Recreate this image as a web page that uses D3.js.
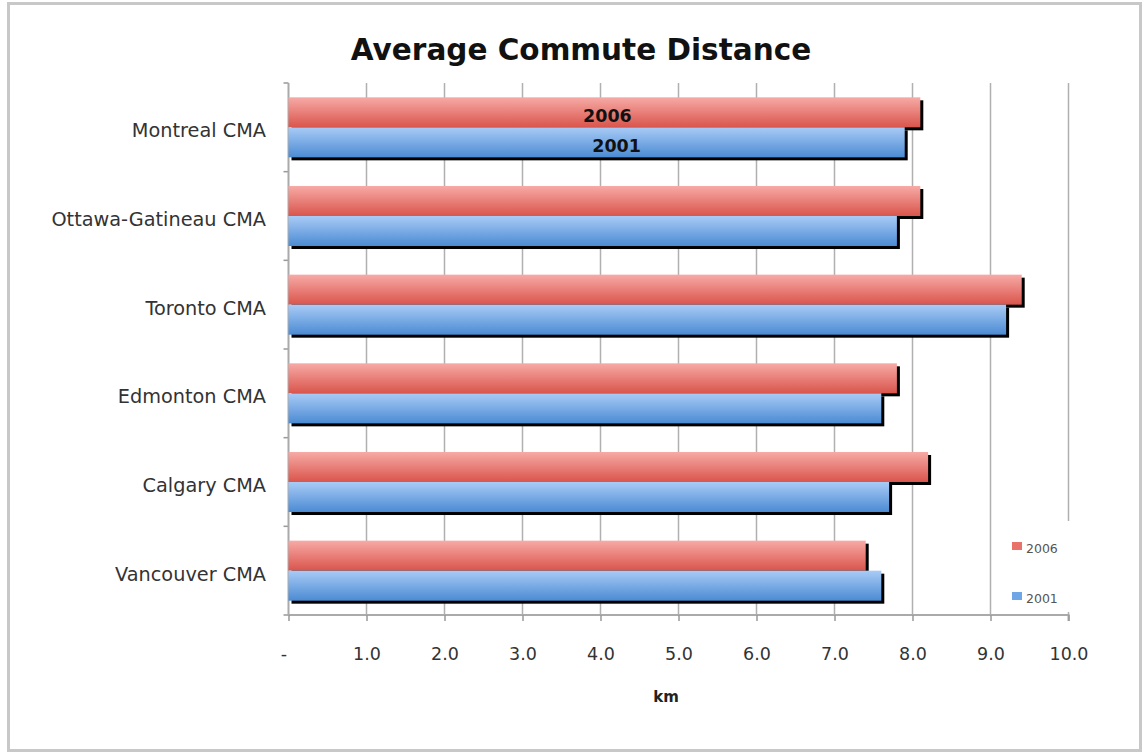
<!DOCTYPE html>
<html><head><meta charset="utf-8">
<script src="https://cdn.jsdelivr.net/npm/d3@7"></script>
<style>body{margin:0;background:#fff}svg{display:block}</style>
</head><body><svg id="c" width="1144" height="754"></svg>
<script>
const categories = ["Montreal CMA","Ottawa-Gatineau CMA","Toronto CMA","Edmonton CMA","Calgary CMA","Vancouver CMA"];
const seriesNames = ["2006","2001"];
const values2006 = [8.1, 8.1, 9.4, 7.8, 8.2, 7.4];
const values2001 = [7.9, 7.8, 9.2, 7.6, 7.7, 7.6];
const xTicks = [0,1,2,3,4,5,6,7,8,9,10];
const xTickLabels = ["-","1.0","2.0","3.0","4.0","5.0","6.0","7.0","8.0","9.0","10.0"];
const chartTitle = "Average Commute Distance";
const xTitle = "km";

const svg = d3.select("#c");
const font = "'DejaVu Sans', sans-serif";
const pL = 288.5, pR = 1068.5, pT = 83, pB = 615;

const x = d3.scaleLinear().domain([0,10]).range([pL,pR]);
const y = d3.scaleBand().domain(categories).range([pT,pB]).paddingInner(0.323).paddingOuter(0.1615);
const ys = d3.scaleBand().domain(seriesNames).range([0,y.bandwidth()]);

const defs = svg.append("defs");
function grad(id, c1, c2){
  const g = defs.append("linearGradient").attr("id",id).attr("x1",0).attr("y1",0).attr("x2",0).attr("y2",1);
  g.append("stop").attr("offset","0%").attr("stop-color",c1);
  g.append("stop").attr("offset","100%").attr("stop-color",c2);
}
grad("g2006","#f7aaa6","#d9554c");
grad("g2001","#a9cbf6","#4b8bd3");
const fills = {"2006":"url(#g2006)","2001":"url(#g2001)"};
const solid = {"2006":"#e8716a","2001":"#6fa6e6"};

// outer frame
svg.append("rect").attr("x",8.5).attr("y",3.5).attr("width",1132).attr("height",747)
  .attr("fill","#fff").attr("stroke","#c8c8c8").attr("stroke-width",3);

// title
svg.append("text").attr("x",581).attr("y",60).attr("text-anchor","middle")
  .attr("font-family",font).attr("font-weight","bold").attr("font-size",29.5).attr("fill","#111").text(chartTitle);

// grid lines
svg.append("g").selectAll("line").data(xTicks.filter(d=>d>0)).join("line")
  .attr("x1",d=>x(d)).attr("x2",d=>x(d)).attr("y1",pT).attr("y2",pB)
  .attr("stroke","#b0b0b0").attr("stroke-width",1.5);

// x axis
const xAxis = d3.axisBottom(x).tickValues(xTicks).tickSize(6).tickPadding(0).tickFormat((d,i)=>xTickLabels[i]);
const gx = svg.append("g").attr("transform",`translate(0,${pB})`).call(xAxis);
gx.select(".domain").attr("stroke","#aaa").attr("stroke-width",2).attr("d",`M${pL},0H${pR}V6`);
gx.selectAll(".tick line").attr("stroke","#999").attr("stroke-width",1.5);
gx.selectAll(".tick text").attr("font-family",font).attr("font-size",17.5).attr("fill","#333")
  .attr("y",45).attr("dy",0).attr("dx",(d)=>d===0?-5:0);

// y axis
const gy = svg.append("g");
const bounds = d3.range(categories.length+1).map(i=> i<categories.length ? y(categories[i]) - y.step()*y.paddingInner()/2 : pB);
gy.selectAll("line.t").data(bounds).join("line").attr("class","t")
  .attr("x1",pL-5).attr("x2",pL).attr("y1",d=>d).attr("y2",d=>d).attr("stroke","#999").attr("stroke-width",1.5);
gy.append("line").attr("x1",pL).attr("x2",pL).attr("y1",pT).attr("y2",pB).attr("stroke","#aaa").attr("stroke-width",2);
gy.selectAll("text").data(categories).join("text")
  .attr("x",266).attr("y",d=>y(d)+y.bandwidth()/2+10).attr("text-anchor","end")
  .attr("font-family",font).attr("font-size",19.3).attr("fill","#333").text(d=>d);

// bars
const data = seriesNames.map((s,si)=>({s, vals: si===0?values2006:values2001}));
const bars = svg.append("g");
data.forEach(ser=>{
  const g = bars.append("g");
  g.selectAll("rect.sh").data(ser.vals).join("rect").attr("class","sh")
    .attr("x",x(0)+3).attr("y",(d,i)=>y(categories[i])+ys(ser.s)+3)
    .attr("width",d=>x(d)-x(0)).attr("height",ys.bandwidth())
    .attr("fill","#000");
  g.selectAll("rect.b").data(ser.vals).join("rect").attr("class","b")
    .attr("x",x(0)).attr("y",(d,i)=>y(categories[i])+ys(ser.s))
    .attr("width",d=>x(d)-x(0)).attr("height",ys.bandwidth())
    .attr("fill",fills[ser.s]);
});
// data labels on first category (series name labels)
const labelDx = {"2006":3,"2001":20};
data.forEach(ser=>{
  svg.append("text").attr("x",(x(0)+x(ser.vals[0]))/2+labelDx[ser.s]).attr("y",y(categories[0])+ys(ser.s)+ys.bandwidth()/2+9.5)
    .attr("text-anchor","middle").attr("font-family",font).attr("font-weight","bold")
    .attr("font-size",17.5).attr("fill","#111").text(ser.s);
});

// legend
const lg = svg.append("g");
lg.append("rect").attr("x",1003).attr("y",521).attr("width",100).attr("height",91).attr("fill","#fff");
const legY = {"2006":546,"2001":596};
seriesNames.forEach(s=>{
  lg.append("rect").attr("x",1012).attr("y",legY[s]-4).attr("width",10).attr("height",8).attr("fill",solid[s]);
  lg.append("text").attr("x",1026).attr("y",legY[s]+6.5)
    .attr("font-family",font).attr("font-size",12.5).attr("fill","#555").text(s);
});

// x title
svg.append("text").attr("x",666).attr("y",702).attr("text-anchor","middle")
  .attr("font-family",font).attr("font-weight","bold").attr("font-size",15).attr("fill","#222").text(xTitle);
</script></body></html>
